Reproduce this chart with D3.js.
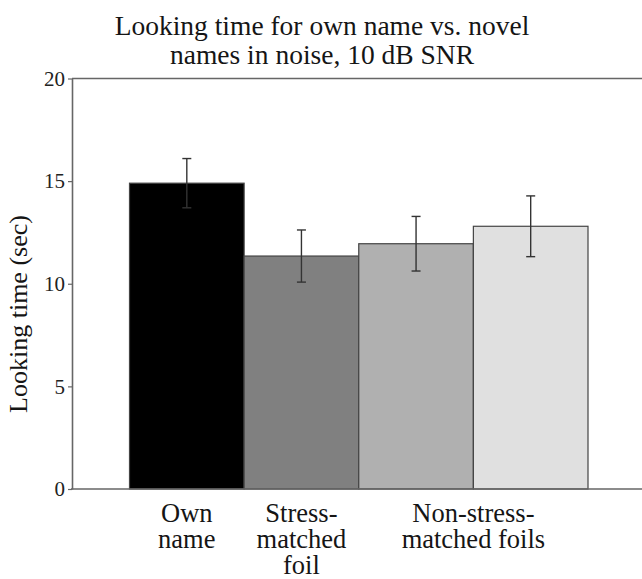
<!DOCTYPE html>
<html>
<head>
<meta charset="utf-8">
<script src="https://cdn.jsdelivr.net/npm/d3@7"></script>
<style>
  html, body { margin: 0; padding: 0; background: #fff; }
  svg { display: block; }
</style>
</head>
<body>
<svg id="chart" width="642" height="579"></svg>
<script>
// Looking time (sec) per stimulus condition, with standard error
const conditions = ["Own name", "Stress-matched foil", "Non-stress-matched foil A", "Non-stress-matched foil B"];
const meanTime = [14.9, 11.35, 11.95, 12.8];
const stdError = [1.2, 1.27, 1.33, 1.48];
const barFills = ["#000000", "#808080", "#b0b0b0", "#e0e0e0"];
const yTicks = [0, 5, 10, 15, 20];
// Category captions: lines of text and the bars each caption sits under
const captionLines = [["Own", "name"], ["Stress-", "matched", "foil"], ["Non-stress-", "matched foils"]];
const captionBars = [[0], [1], [2, 3]];
const titleLines = ["Looking time for own name vs. novel", "names in noise, 10 dB SNR"];

const serif = "'Liberation Serif', 'Times New Roman', Times, serif";
const svg = d3.select("#chart");
const axisColor = "#666";
const textColor = "#151515";

const y = d3.scaleLinear().domain([0, 20]).range([489, 78.5]);
const x = d3.scaleBand().domain(conditions).range([129.5, 588]).padding(0);
const axisLeftX = 72;

// Title, one text per line
svg.append("g").selectAll("text").data(titleLines).join("text")
  .attr("x", 322)
  .attr("y", (d, i) => 35 + i * 29)
  .attr("text-anchor", "middle")
  .style("font-family", serif)
  .style("font-size", "27.5px")
  .style("fill", textColor)
  .text(d => d);

// Frame line along the top of the value range
svg.append("line")
  .attr("x1", axisLeftX).attr("x2", 642)
  .attr("y1", y(20)).attr("y2", y(20))
  .attr("stroke", axisColor).attr("stroke-width", 1.6);

// Bars
svg.append("g").selectAll("rect").data(conditions).join("rect")
  .attr("x", d => x(d))
  .attr("width", x.bandwidth())
  .attr("y", (d, i) => y(meanTime[i]))
  .attr("height", (d, i) => y(0) - y(meanTime[i]))
  .attr("fill", (d, i) => barFills[i])
  .attr("stroke", "#444")
  .attr("stroke-width", 1.2);

// Error bars
const err = svg.append("g").attr("stroke", "#333").attr("stroke-width", 1.4);
conditions.forEach((c, i) => {
  const cx = x(c) + x.bandwidth() / 2;
  const top = y(meanTime[i] + stdError[i]);
  const bot = y(meanTime[i] - stdError[i]);
  err.append("line").attr("x1", cx).attr("x2", cx).attr("y1", top).attr("y2", bot);
  err.append("line").attr("x1", cx - 4.5).attr("x2", cx + 4.5).attr("y1", top).attr("y2", top);
  err.append("line").attr("x1", cx - 4.5).attr("x2", cx + 4.5).attr("y1", bot).attr("y2", bot);
});

// Baseline
svg.append("line")
  .attr("x1", axisLeftX - 1).attr("x2", 642)
  .attr("y1", y(0)).attr("y2", y(0))
  .attr("stroke", axisColor).attr("stroke-width", 1.6);

// Y axis
const yAxis = svg.append("g")
  .attr("transform", `translate(${axisLeftX},0)`)
  .call(d3.axisLeft(y).tickValues(yTicks).tickSize(4).tickSizeOuter(0).tickPadding(3));
yAxis.select(".domain").attr("stroke", axisColor).attr("stroke-width", 1.6);
yAxis.selectAll(".tick line").attr("stroke", axisColor).attr("stroke-width", 1.2);
yAxis.selectAll(".tick text")
  .style("font-family", serif)
  .style("font-size", "21px")
  .style("fill", "#222");

// Y axis title
svg.append("text")
  .attr("transform", "translate(27,314) rotate(-90)")
  .attr("text-anchor", "middle")
  .style("font-family", serif)
  .style("font-size", "26px")
  .style("fill", textColor)
  .text("Looking time (sec)");

// Category captions, one text per line
const caps = svg.append("g");
captionLines.forEach((lines, gi) => {
  const cx = d3.mean(captionBars[gi], b => x(conditions[b]) + x.bandwidth() / 2);
  caps.selectAll(null).data(lines).enter().append("text")
    .attr("x", cx)
    .attr("y", (d, li) => 522 + li * 26)
    .attr("text-anchor", "middle")
    .style("font-family", serif)
    .style("font-size", "26.5px")
    .style("fill", textColor)
    .text(d => d);
});
</script>
</body>
</html>
